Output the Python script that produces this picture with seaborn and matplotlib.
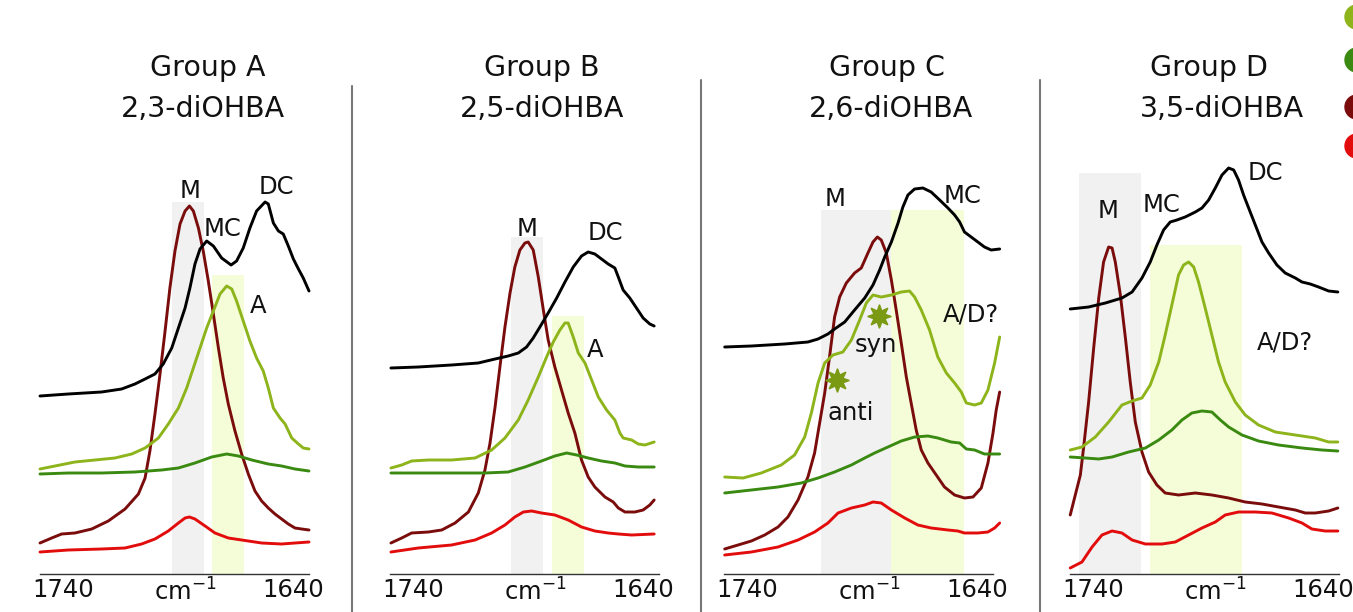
import pandas as pd
import matplotlib
matplotlib.use("Agg")
import matplotlib.pyplot as plt
import seaborn as sns
from matplotlib.lines import Line2D
from matplotlib.patches import Ellipse

# ---------------- data (wavenumber in cm-1, absorbance in arbitrary units) ----------------
# Group A, 2,3-diOHBA
a_black_x = [1750, 1737.7, 1723.2, 1714.5, 1708.7, 1704.3, 1700.0, 1696.4, 1692.7, 1689.8, 1686.9, 1684.8,
             1682.6, 1680.4, 1677.5, 1674.6, 1671.0, 1666.9, 1664.5, 1661.6, 1658.7, 1655.8, 1652.1, 1650.7,
             1648.5, 1646.3, 1644.2, 1642.0, 1639.8, 1637.6, 1635.5, 1633]
a_black_y = [178, 180, 182, 185, 190, 195, 200, 210, 226, 246, 266, 286, 310, 325, 333, 328, 316, 309, 313,
             326, 346, 363, 372, 370, 351, 343, 340, 328, 315, 305, 296, 283]
a_darkred_x = [1750, 1744.9, 1740.6, 1734.8, 1727.5, 1720.3, 1713.0, 1707.2, 1704.3, 1702.2, 1700.0, 1697.8,
               1695.6, 1693.5, 1691.3, 1689.1, 1686.9, 1685.0, 1683.3, 1681.1, 1679.0, 1676.8, 1674.6, 1672.4,
               1670.3, 1668.1, 1665.2, 1662.3, 1659.4, 1656.5, 1653.6, 1650.7, 1647.8, 1644.9, 1642.0, 1639.1,
               1636.2, 1633]
a_darkred_y = [31, 36, 40, 41, 45, 53, 65, 80, 96, 123, 160, 200, 243, 286, 323, 350, 363, 368, 363, 346, 323,
               293, 260, 226, 196, 170, 143, 120, 100, 83, 73, 66, 60, 55, 50, 46, 45, 44]
a_light_x = [1750, 1743.5, 1734.8, 1726.1, 1717.4, 1710.1, 1704.3, 1698.5, 1694.2, 1689.8, 1686.2, 1683.3,
             1680.4, 1677.5, 1674.6, 1671.7, 1668.8, 1666.6, 1664.5, 1661.6, 1658.7, 1655.8, 1652.9, 1650.7,
             1648.5, 1645.6, 1643.4, 1640.5, 1637.6, 1635.5, 1633]
a_light_y = [105, 108, 112, 114, 116, 120, 126, 136, 150, 166, 186, 206, 226, 246, 263, 280, 288, 285, 273, 253,
             233, 216, 203, 186, 166, 156, 150, 136, 130, 126, 125]
a_green_x = [1750, 1737.7, 1723.2, 1708.7, 1697.1, 1689.8, 1682.6, 1675.3, 1668.8, 1663.7, 1657.9, 1650.7,
             1644.9, 1639.1, 1633]
a_green_y = [100, 101, 101, 102, 104, 106, 111, 117, 120, 118, 114, 110, 108, 105, 103]
a_red_x = [1750, 1737.7, 1723.2, 1713.0, 1705.8, 1700.0, 1694.2, 1689.8, 1686.9, 1685.0, 1682.6, 1678.2,
           1673.9, 1668.1, 1662.3, 1653.6, 1644.9, 1639.1, 1633]
a_red_y = [22, 24, 25, 26, 30, 35, 43, 51, 56, 57, 55, 48, 41, 36, 34, 31, 30, 31, 32]

# Group B, 2,5-diOHBA
b_black_x = [1749.6, 1737.7, 1723.2, 1711.6, 1704.3, 1698.6, 1694.2, 1690.6, 1687.7, 1684.8, 1681.2, 1677.5,
             1673.9, 1670.3, 1666.7, 1663.8, 1660.9, 1658.0, 1655.1, 1652.2, 1650.7, 1648.6, 1645.7, 1642.8,
             1639.9, 1637.0, 1635.1]
b_black_y = [206, 207, 209, 211, 215, 218, 221, 227, 236, 247, 261, 276, 292, 307, 318, 322, 320, 315, 310,
             306, 297, 284, 276, 266, 256, 250, 248]
b_darkred_x = [1749.6, 1744.9, 1740.6, 1733.3, 1727.5, 1721.7, 1715.9, 1711.6, 1708.7, 1706.5, 1704.3, 1702.2,
               1700.0, 1697.8, 1695.7, 1693.5, 1691.3, 1689.9, 1687.7, 1685.5, 1683.3, 1681.2, 1678.3, 1675.4,
               1672.5, 1669.6, 1666.7, 1663.8, 1660.9, 1656.5, 1652.9, 1650.7, 1647.8, 1643.5, 1639.9, 1637.0,
               1635.1]
b_darkred_y = [31, 36, 41, 42, 44, 51, 62, 81, 104, 131, 167, 207, 247, 281, 307, 324, 331, 332, 324, 297, 264,
               234, 207, 184, 161, 141, 114, 97, 87, 77, 72, 66, 62, 62, 64, 69, 74]
b_light_x = [1749.6, 1744.9, 1740.6, 1733.3, 1723.2, 1713.0, 1705.8, 1700.0, 1694.2, 1689.9, 1685.5, 1681.9,
             1679.0, 1676.1, 1673.9, 1672.5, 1670.3, 1668.1, 1665.2, 1662.3, 1659.4, 1655.8, 1652.2, 1650.0,
             1648.6, 1644.9, 1642.0, 1639.1, 1635.1]
b_light_y = [106, 109, 113, 114, 114, 116, 124, 136, 154, 174, 197, 217, 232, 244, 251, 251, 237, 221, 211, 194,
             177, 164, 154, 141, 136, 134, 130, 129, 132]
b_green_x = [1749.6, 1737.7, 1723.2, 1708.7, 1698.6, 1691.3, 1684.1, 1678.3, 1673.2, 1668.8, 1663.8, 1658.0,
             1652.2, 1647.8, 1642.0, 1635.1]
b_green_y = [101, 101, 101, 101, 102, 107, 113, 118, 121, 119, 116, 113, 111, 108, 107, 107]
b_red_x = [1749.6, 1737.7, 1723.2, 1713.0, 1705.8, 1700.0, 1695.7, 1692.0, 1688.4, 1684.1, 1678.3, 1672.5,
           1666.7, 1660.9, 1655.1, 1650.7, 1644.9, 1635.1]
b_red_y = [22, 26, 29, 34, 41, 49, 57, 62, 63, 61, 59, 54, 47, 43, 41, 40, 39, 40]

# Group C, 2,6-diOHBA
c_black_x = [1749.7, 1738.1, 1723.6, 1713.5, 1709.1, 1704.8, 1701.9, 1697.5, 1693.2, 1688.8, 1685.2, 1682.3,
             1680.1, 1677.2, 1674.3, 1672.2, 1670.0, 1667.1, 1663.5, 1659.9, 1656.2, 1652.6, 1649.7, 1647.5,
             1645.4, 1642.5, 1639.6, 1636.7, 1633.8, 1630.1]
c_black_y = [227, 228, 230, 232, 235, 240, 245, 252, 264, 276, 289, 304, 317, 332, 351, 367, 379, 385, 386,
             382, 374, 366, 359, 352, 342, 337, 332, 327, 324, 325]
c_darkred_x = [1749.7, 1743.9, 1738.1, 1732.3, 1726.5, 1722.2, 1717.8, 1713.5, 1710.6, 1708.4, 1706.2, 1704.1,
               1701.9, 1699.7, 1696.8, 1693.2, 1690.3, 1687.4, 1685.2, 1683.3, 1681.6, 1679.4, 1677.2, 1675.1,
               1672.9, 1670.7, 1668.6, 1666.4, 1664.2, 1661.3, 1657.7, 1654.1, 1649.7, 1645.4, 1641.7, 1638.1,
               1635.2, 1633.0, 1631.6, 1630.1]
c_darkred_y = [25, 29, 33, 39, 47, 57, 74, 97, 121, 151, 181, 217, 257, 277, 291, 301, 306, 321, 332, 337, 334,
               321, 294, 264, 231, 197, 171, 144, 124, 111, 99, 87, 79, 76, 77, 86, 111, 141, 164, 182]
c_light_x = [1749.7, 1741.7, 1733.8, 1725.1, 1719.3, 1714.9, 1712.0, 1709.1, 1706.2, 1702.6, 1698.3, 1694.6,
             1691.0, 1688.1, 1685.2, 1681.6, 1677.2, 1672.9, 1669.3, 1667.1, 1664.2, 1660.6, 1657.0, 1653.3,
             1649.7, 1646.8, 1644.6, 1641.0, 1638.1, 1635.2, 1632.3, 1630.1]
c_light_y = [97, 96, 101, 109, 119, 137, 161, 191, 211, 219, 222, 234, 254, 271, 279, 277, 279, 282, 283, 277,
             264, 244, 217, 201, 191, 182, 171, 169, 171, 184, 211, 237]
c_green_x = [1749.7, 1738.1, 1726.5, 1716.4, 1709.1, 1701.9, 1694.6, 1688.8, 1684.5, 1678.7, 1672.9, 1667.1,
             1661.3, 1657.0, 1651.2, 1647.5, 1644.6, 1641.0, 1636.7, 1630.1]
c_green_y = [81, 84, 87, 91, 96, 102, 109, 116, 121, 127, 133, 137, 138, 136, 132, 131, 125, 124, 120, 120]
c_red_x = [1749.7, 1738.1, 1726.5, 1717.8, 1710.6, 1704.8, 1700.4, 1694.6, 1688.8, 1685.2, 1681.6, 1677.2,
           1671.4, 1665.7, 1659.9, 1652.6, 1648.3, 1645.4, 1639.6, 1635.2, 1632.3, 1630.1]
c_red_y = [19, 22, 27, 34, 42, 51, 61, 66, 69, 72, 71, 64, 56, 49, 46, 44, 43, 41, 41, 42, 46, 51]

# Group D, 3,5-diOHBA
d_black_x = [1749.9, 1741.9, 1734.6, 1727.4, 1723.0, 1718.7, 1715.1, 1712.2, 1709.3, 1706.4, 1703.5, 1699.9,
             1695.5, 1692.6, 1689.7, 1686.8, 1683.9, 1681.0, 1678.8, 1676.7, 1674.5, 1672.3, 1669.4, 1666.5,
             1663.6, 1660.0, 1656.4, 1652.0, 1649.1, 1645.5, 1641.9, 1637.5, 1633.5]
d_black_y = [265, 267, 271, 276, 282, 296, 312, 329, 344, 352, 354, 357, 362, 366, 374, 386, 399, 406, 404,
             394, 379, 366, 349, 332, 321, 309, 301, 296, 292, 290, 287, 283, 282]
d_darkred_x = [1749.9, 1747.7, 1745.5, 1744.1, 1741.9, 1739.7, 1737.5, 1735.4, 1733.2, 1731.7, 1730.3, 1728.1,
               1725.9, 1723.8, 1721.6, 1718.7, 1715.8, 1712.2, 1708.6, 1702.8, 1695.5, 1688.3, 1681.0, 1673.8,
               1666.5, 1659.3, 1652.0, 1647.7, 1643.3, 1637.5, 1633.5]
d_darkred_y = [59, 79, 99, 126, 172, 226, 276, 312, 327, 326, 312, 279, 236, 192, 152, 122, 102, 89, 81, 79, 81,
               79, 76, 72, 70, 67, 64, 61, 61, 63, 66]
d_light_x = [1749.9, 1744.8, 1739.0, 1733.2, 1727.4, 1723.0, 1718.7, 1715.1, 1711.4, 1708.6, 1705.7, 1702.8,
             1700.6, 1698.4, 1696.2, 1694.1, 1691.2, 1688.3, 1685.4, 1682.5, 1678.1, 1673.8, 1668.0, 1660.7,
             1652.0, 1643.3, 1637.5, 1633.5]
d_light_y = [124, 127, 137, 152, 169, 173, 176, 189, 212, 239, 269, 299, 309, 312, 307, 292, 266, 239, 212, 192,
             172, 159, 149, 142, 139, 136, 132, 132]
d_green_x = [1749.9, 1743.3, 1737.5, 1731.7, 1724.5, 1717.2, 1711.4, 1705.7, 1701.3, 1697.0, 1692.6, 1688.3,
             1684.6, 1681.0, 1675.2, 1668.0, 1659.3, 1649.1, 1640.4, 1633.5]
d_green_y = [117, 116, 115, 117, 122, 126, 134, 144, 154, 161, 163, 162, 154, 147, 139, 133, 129, 126, 124, 123]
d_red_x = [1749.9, 1744.8, 1740.4, 1736.1, 1731.7, 1727.4, 1723.0, 1717.2, 1710.0, 1704.2, 1698.4, 1692.6,
           1686.8, 1682.5, 1676.7, 1669.4, 1662.2, 1654.9, 1649.1, 1644.8, 1639.0, 1633.5]
d_red_y = [6, 12, 27, 39, 43, 41, 34, 30, 30, 32, 39, 46, 52, 59, 62, 62, 61, 56, 51, 45, 43, 43]

groups = ["Group A", "Group B", "Group C", "Group D"]
compounds = ["2,3-diOHBA", "2,5-diOHBA", "2,6-diOHBA", "3,5-diOHBA"]
series = ["red", "darkred", "green", "light", "black"]

# shaded bands: (low wn, high wn, top)
gray_bands = [(1678.5, 1692.7, 372), (1683.3, 1697.5, 337), (1677.5, 1708.0, 364), (1719.1, 1746.2, 401)]
yellow_bands = [(1661.1, 1675.3, 299), (1665.5, 1679.7, 258), (1645.8, 1677.5, 364), (1675.2, 1715.4, 329)]

# peak labels: (text, wn, baseline height)
labels = [
    [("M", 1684.8, 376), ("MC", 1670.4, 338), ("DC", 1647.0, 380), ("A", 1655.2, 261)],
    [("M", 1690.6, 338), ("DC", 1656.5, 334), ("A", 1660.6, 217)],
    [("M", 1701.9, 368), ("MC", 1646.1, 371), ("A/D?", 1642.5, 252), ("syn", 1684.1, 222), ("anti", 1694.7, 154)],
    [("M", 1733.6, 356), ("MC", 1710.0, 362), ("DC", 1664.8, 394), ("A/D?", 1656.4, 224)],
]
star_x = [1682.7, 1700.9]
star_y = [258, 194]

colors = {"black": "#000000", "light": "#8db41b", "green": "#3a8a12", "darkred": "#7a0c0c", "red": "#e20c0c"}

data = {
    0: [(a_red_x, a_red_y), (a_darkred_x, a_darkred_y), (a_green_x, a_green_y), (a_light_x, a_light_y), (a_black_x, a_black_y)],
    1: [(b_red_x, b_red_y), (b_darkred_x, b_darkred_y), (b_green_x, b_green_y), (b_light_x, b_light_y), (b_black_x, b_black_y)],
    2: [(c_red_x, c_red_y), (c_darkred_x, c_darkred_y), (c_green_x, c_green_y), (c_light_x, c_light_y), (c_black_x, c_black_y)],
    3: [(d_red_x, d_red_y), (d_darkred_x, d_darkred_y), (d_green_x, d_green_y), (d_light_x, d_light_y), (d_black_x, d_black_y)],
}

# ---------------- figure ----------------
sns.set_style("white")
plt.rcParams["font.family"] = ["DejaVu Sans"]
plt.rcParams["mathtext.default"] = "regular"

W, H = 1353, 612
fig = plt.figure(figsize=(W / 100, H / 100), dpi=100)

lefts = [40, 390, 724, 1070]
title_x = [207.5, 541.7, 886.7, 1209]
comp_x = [202.5, 542.5, 891, 1221.7]

for i in range(4):
    ax = fig.add_axes([lefts[i] / W, 38 / H, 269 / W, 420 / H])
    rows = []
    for name, (xs, ys) in zip(series, data[i]):
        for x, y in zip(xs, ys):
            rows.append({"wn": x, "absorb": y, "series": name})
    df = pd.DataFrame(rows)

    g_lo, g_hi, g_top = gray_bands[i]
    y_lo, y_hi, y_top = yellow_bands[i]
    ax.fill_between([g_lo, g_hi], 0, g_top, color="#f1f1f1", lw=0, zorder=0)
    ax.fill_between([y_lo, y_hi], 0, y_top, color="#f5fcd8", lw=0, zorder=0)

    sns.lineplot(data=df, x="wn", y="absorb", hue="series", hue_order=series, palette=colors,
                 estimator=None, sort=False, legend=False, lw=2.1, ax=ax)
    for ln in ax.lines:
        ln.set_clip_on(False)

    for txt, x, y in labels[i]:
        ax.text(x, y, txt, fontsize=17.5, ha="center", va="baseline", color="#111111")
    if i == 2:
        ax.plot(star_x, star_y, ls="none", marker=(8, 1, 0), ms=17, color="#7a9a14", mec="#7a9a14")

    ax.set_xlim(1750, 1633)
    ax.set_ylim(0, 420)
    ax.set_xlabel("")
    ax.set_ylabel("")
    ax.set_yticks([])
    ax.set_xticks([1740, 1687, 1640])
    ax.set_xticklabels(["1740", "cm$^{-1}$", "1640"])
    ax.tick_params(axis="x", length=0, pad=3, labelsize=17.5, labelcolor="#111111")
    for s in ["left", "top", "right"]:
        ax.spines[s].set_visible(False)
    ax.spines["bottom"].set_color("#333333")
    ax.spines["bottom"].set_linewidth(1.0)
    ax.patch.set_alpha(0)

    fig.text(title_x[i] / W, 1 - 76 / H, groups[i], fontsize=20.5, ha="center", va="baseline", color="#111111")
    fig.text(comp_x[i] / W, 1 - 117 / H, compounds[i], fontsize=20.5, ha="center", va="baseline", color="#111111")

# panel separators
for x, top in [(352, 86), (701, 80), (1040, 80)]:
    fig.add_artist(Line2D([x / W, x / W], [1 - top / H, 0], color="#777777", lw=1.5))

# legend markers cut at the right edge
for col, cy in zip(["light", "green", "darkred", "red"], [17, 60, 107, 146]):
    fig.add_artist(Ellipse((1357 / W, 1 - cy / H), 24 / W, 24 / H, color=colors[col]))

fig.savefig("out.png", dpi=100)
